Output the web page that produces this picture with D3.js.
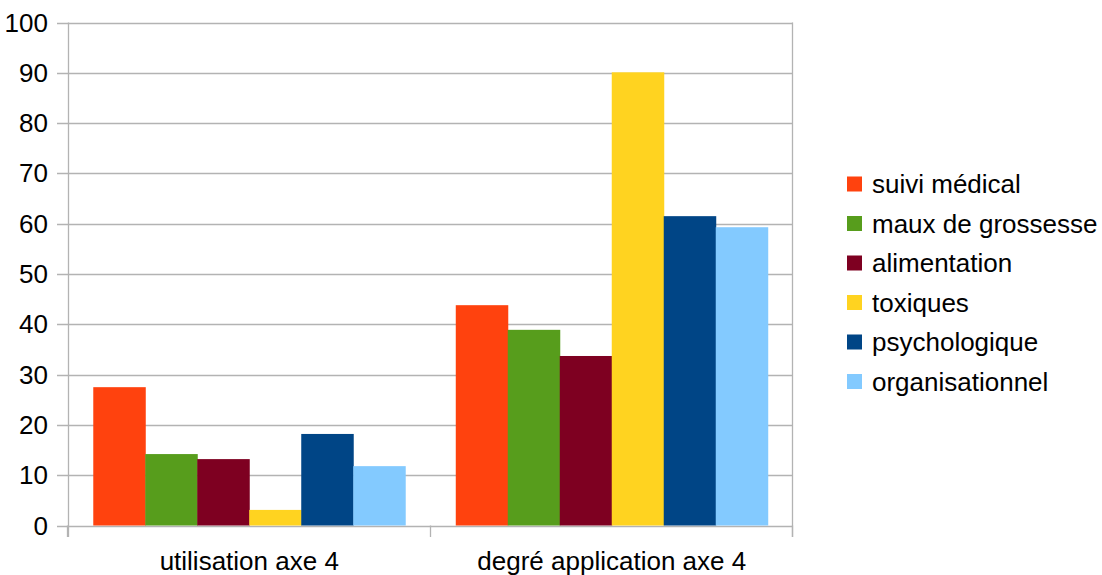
<!DOCTYPE html>
<html>
<head>
<meta charset="utf-8">
<script src="https://cdn.jsdelivr.net/npm/d3@7"></script>
<style>
  html, body { margin: 0; padding: 0; background: #fff; }
  svg { display: block; font-family: "Liberation Sans", Arial, sans-serif; }
</style>
</head>
<body>
<svg id="chart" width="1102" height="575"></svg>
<script>
const categories = ["utilisation axe 4", "degré application axe 4"];
const seriesNames = ["suivi médical", "maux de grossesse", "alimentation", "toxiques", "psychologique", "organisationnel"];
const seriesColors = ["#ff420e", "#579d1c", "#7e0021", "#ffd320", "#004586", "#83caff"];
const suiviMedical = [27.5, 43.8];
const mauxDeGrossesse = [14.2, 38.9];
const alimentation = [13.2, 33.7];
const toxiques = [3.1, 90.1];
const psychologique = [18.2, 61.5];
const organisationnel = [11.8, 59.3];
const yTicks = [0, 10, 20, 30, 40, 50, 60, 70, 80, 90, 100];

const seriesValues = [suiviMedical, mauxDeGrossesse, alimentation, toxiques, psychologique, organisationnel];

const svg = d3.select("#chart");
const pLeft = 68, pRight = 793, pTop = 22.5, pBottom = 525.5;
const gridColor = "#b3b3b3";
const fontSize = 26;

const x0 = d3.scaleBand().domain(categories).range([pLeft, pRight]).padding(0);
const x1 = d3.scaleBand().domain(seriesNames).range([0, x0.bandwidth()]).paddingInner(0).paddingOuter(0.486);
const y = d3.scaleLinear().domain([0, 100]).range([pBottom, pTop]);

// gridlines
svg.append("g").selectAll("line").data(yTicks).join("line")
  .attr("x1", pLeft - 11).attr("x2", pRight)
  .attr("y1", d => Math.round(y(d)) + 0.5).attr("y2", d => Math.round(y(d)) + 0.5)
  .attr("stroke", gridColor).attr("stroke-width", 1.3);

// y axis labels
svg.append("g").selectAll("text").data(yTicks).join("text")
  .attr("x", 48).attr("y", d => y(d))
  .attr("text-anchor", "end").attr("dominant-baseline", "central")
  .attr("font-size", fontSize).attr("fill", "#000")
  .text(d => d);

// bars
const groups = svg.append("g").selectAll("g").data(categories).join("g")
  .attr("transform", c => `translate(${x0(c)},0)`);
groups.selectAll("rect").data((c, ci) => seriesNames.map((s, si) => ({ s, si, v: seriesValues[si][ci] })))
  .join("rect")
  .attr("x", d => x1(d.s))
  .attr("width", x1.bandwidth() + 0.5)
  .attr("y", d => y(d.v))
  .attr("height", d => pBottom - y(d.v))
  .attr("fill", d => seriesColors[d.si]);

// axes lines
svg.append("line").attr("x1", pLeft + 0.5).attr("x2", pLeft + 0.5).attr("y1", pTop).attr("y2", pBottom + 11.5)
  .attr("stroke", gridColor).attr("stroke-width", 1.3);
svg.append("line").attr("x1", pRight - 0.5).attr("x2", pRight - 0.5).attr("y1", pTop).attr("y2", pBottom + 11.5)
  .attr("stroke", gridColor).attr("stroke-width", 1.3);
// category ticks
const boundaries = [pLeft, pLeft + x0.bandwidth(), pRight];
svg.append("g").selectAll("line").data(boundaries).join("line")
  .attr("x1", d => Math.round(d) - 0.5).attr("x2", d => Math.round(d) - 0.5)
  .attr("y1", pBottom).attr("y2", pBottom + 11.5)
  .attr("stroke", gridColor).attr("stroke-width", 1.3);

// category labels
svg.append("g").selectAll("text").data(categories).join("text")
  .attr("x", c => x0(c) + x0.bandwidth() / 2).attr("y", 570)
  .attr("text-anchor", "middle").attr("font-size", fontSize).attr("fill", "#000")
  .text(c => c);

// legend
const legend = svg.append("g").selectAll("g").data(seriesNames).join("g")
  .attr("transform", (d, i) => `translate(847, ${184 + i * 39.5})`);
legend.append("rect").attr("x", 0).attr("y", -7.5).attr("width", 15).attr("height", 15)
  .attr("fill", (d, i) => seriesColors[i]);
legend.append("text").attr("x", 25).attr("y", 0).attr("dominant-baseline", "central")
  .attr("font-size", fontSize).attr("fill", "#000").text(d => d);
</script>
</body>
</html>
